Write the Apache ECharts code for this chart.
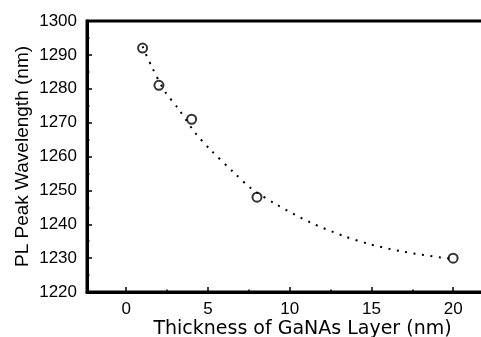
<!DOCTYPE html>
<html>
<head>
<meta charset="utf-8">
<script src="https://cdn.jsdelivr.net/npm/echarts@6/dist/echarts.min.js"></script>
<style>
  html, body { margin: 0; padding: 0; background: #fff; }
  #chart { width: 481px; height: 337px; }
</style>
</head>
<body>
<div id="chart"></div>
<script>
// measured points
const thickness = [1, 2, 4, 8, 20];
const wavelength = [1292, 1281, 1271, 1248, 1230];

// dotted fit curve
const fitX = [1.0, 1.57, 2.38, 3.16, 4.2, 5.13, 6.6, 7.64, 9.2, 11.28, 13.32, 14.84, 16.84, 19.38, 20];
const fitY = [1292.5, 1286.4, 1279.1, 1274.3, 1267.1, 1262.1, 1255.2, 1250.6, 1245.8, 1240.5, 1236.5, 1234.2, 1232.0, 1230.1, 1229.8];

const xMajor = [0, 5, 10, 15, 20];
const xMinor = [2.5, 7.5, 12.5, 17.5];

const FONT = '"Liberation Sans", Arial, sans-serif';
// the picture is a bit stretched sideways, a wider face fits the x title better
const WIDE_FONT = '"DejaVu Sans", sans-serif';

const chart = echarts.init(document.getElementById('chart'), null, { renderer: 'canvas' });

const xBase = {
  type: 'value',
  min: -2.4,
  max: 22.5,
  position: 'bottom',
  splitLine: { show: false },
};

chart.setOption({
  backgroundColor: '#fff',
  animation: false,
  grid: {
    left: 87, right: -13, top: 21, bottom: 45,
    outerBoundsMode: 'none',
    show: true, borderColor: '#000', borderWidth: 3,
  },
  xAxis: [
    {
      ...xBase,
      name: 'Thickness of GaNAs Layer (nm)',
      nameLocation: 'middle',
      nameGap: 28,
      nameMoveOverlap: false,
      nameTextStyle: { color: '#000', fontSize: 19, fontFamily: WIDE_FONT, padding: [0, 0, 0, 24] },
      axisLine: { show: true, onZero: false, lineStyle: { color: '#000', width: 3 } },
      axisTick: { show: true, inside: true, length: 5, lineStyle: { color: '#000', width: 1.5 }, customValues: xMajor },
      axisLabel: { color: '#000', fontSize: 17, fontFamily: FONT, margin: 9, customValues: xMajor },
    },
    {
      ...xBase,
      axisLine: { show: false, onZero: false },
      axisTick: { show: true, inside: true, length: 2.5, lineStyle: { color: '#000', width: 1.5 }, customValues: xMinor },
      axisLabel: { show: false },
    },
  ],
  yAxis: {
    type: 'value',
    min: 1220,
    max: 1300,
    interval: 10,
    name: 'PL Peak Wavelength (nm)',
    nameLocation: 'middle',
    nameGap: 55,
    nameMoveOverlap: false,
    nameTextStyle: { color: '#000', fontSize: 19, fontFamily: FONT },
    axisLine: { show: true, onZero: false, lineStyle: { color: '#000', width: 3 } },
    axisTick: { show: true, inside: true, length: 5, lineStyle: { color: '#000', width: 1.5 } },
    minorTick: { show: true, splitNumber: 2, length: 2.5, lineStyle: { color: '#000', width: 1.5 } },
    axisLabel: { color: '#000', fontSize: 17, fontFamily: FONT, margin: 10, formatter: (v) => String(v) },
    splitLine: { show: false },
  },
  series: [
    {
      name: 'fit',
      type: 'line',
      data: fitX.map((x, i) => [x, fitY[i]]),
      smooth: 0.3,
      symbol: 'none',
      lineStyle: { color: '#000', width: 2, type: [2, 6.5] },
      z: 2,
    },
    {
      name: 'PL peak',
      type: 'scatter',
      data: thickness.map((x, i) => [x, wavelength[i]]),
      symbol: 'circle',
      symbolSize: 9,
      itemStyle: { color: 'rgba(255,255,255,0)', borderColor: '#000', borderWidth: 2 },
      z: 3,
    },
  ],
});
</script>
</body>
</html>
